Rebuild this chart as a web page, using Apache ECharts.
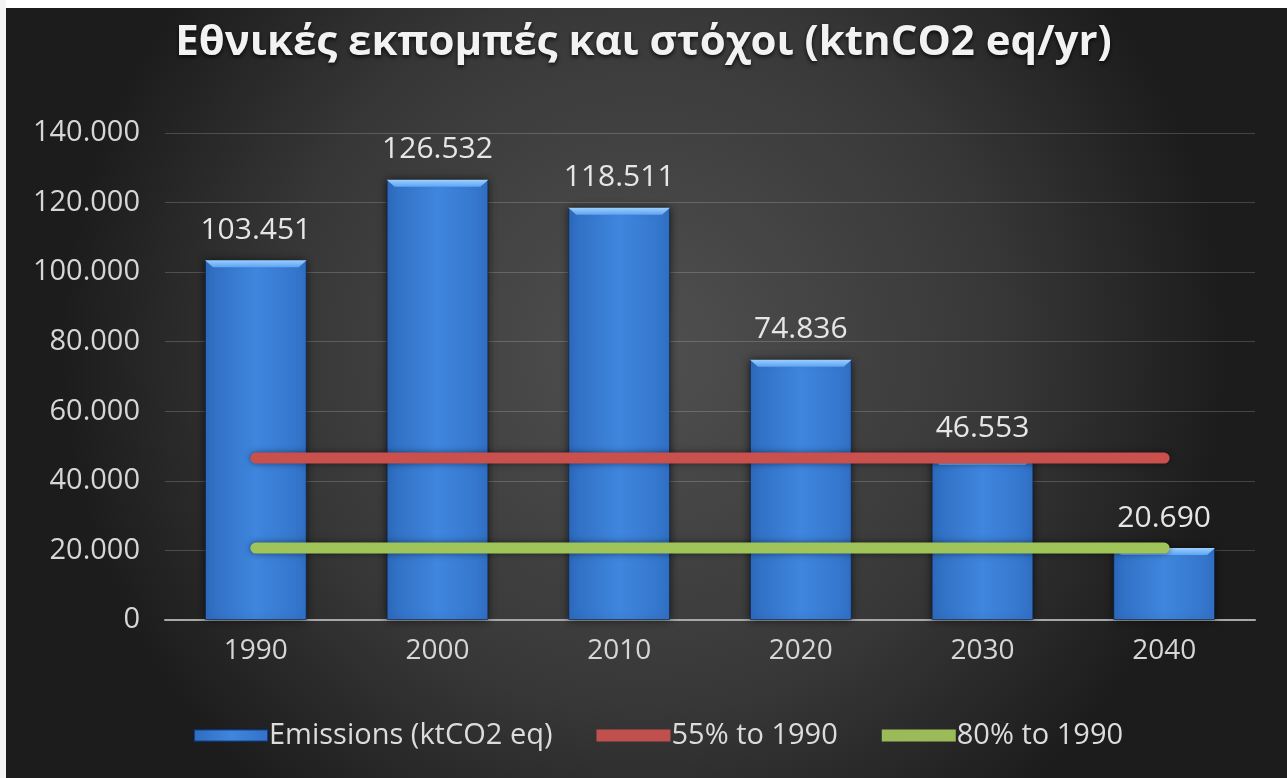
<!DOCTYPE html>
<html>
<head>
<meta charset="utf-8">
<script src="https://cdn.jsdelivr.net/npm/echarts@6/dist/echarts.min.js"></script>
<style>
html,body{margin:0;padding:0;background:#fff;}
#c{width:1287px;height:778px;}
</style>
</head>
<body>
<div id="c"></div>
<script>
const years = ['1990','2000','2010','2020','2030','2040'];
const emissions = [103451, 126532, 118511, 74836, 46553, 20690];
const target55 = [46553, 46553, 46553, 46553, 46553, 46553];
const target80 = [20690, 20690, 20690, 20690, 20690, 20690];
const yTicks = {min: 0, max: 140000, interval: 20000};

function fmt(v){
  return String(Math.round(v)).replace(/\B(?=(\d{3})+(?!\d))/g, '.');
}

const chart = echarts.init(document.getElementById('c'));
const FONT = '"Open Sans", "Noto Sans", sans-serif';
const BAR_FRAC = 0.56;
chart.setOption({
  backgroundColor: {
    type: 'radial', x: 0.5, y: 0.45, r: 0.75,
    colorStops: [{offset: 0, color: '#505050'}, {offset: 0.6, color: '#383838'}, {offset: 1, color: '#1c1c1c'}]
  },
  graphic: [
    {type: 'rect', left: 0, top: 0, shape: {width: 1287, height: 8}, style: {fill: '#ffffff'}, z: 100},
    {type: 'rect', left: 0, top: 0, shape: {width: 6, height: 778}, style: {fill: '#f4f4f4'}, z: 100}
  ],
  title: {
    text: 'Εθνικές εκπομπές και στόχοι (ktnCO2 eq/yr)',
    left: 'center', top: 17,
    textStyle: {
      color: '#f2f2f2', fontSize: 42, fontWeight: 'bold', fontFamily: FONT,
      textShadowColor: 'rgba(0,0,0,0.8)', textShadowBlur: 4, textShadowOffsetY: 2
    }
  },
  legend: {
    bottom: 23, left: 188, itemGap: 44, itemWidth: 74, itemHeight: 12,
    textStyle: {color: '#dcdcdc', fontSize: 29, fontFamily: FONT, padding: [0,0,0,-4]},
    data: [
      {name: 'Emissions (ktCO2 eq)', icon: 'rect'},
      {name: '55% to 1990', icon: 'rect'},
      {name: '80% to 1990', icon: 'rect'}
    ]
  },
  grid: {left: 165, right: 32, top: 133, bottom: 158},
  xAxis: {
    type: 'category', data: years, boundaryGap: true,
    axisLine: {lineStyle: {color: '#a8a8a8', width: 2}},
    axisTick: {show: false},
    axisLabel: {color: '#d6d6d6', fontSize: 28, fontFamily: FONT, margin: 17}
  },
  yAxis: {
    type: 'value', min: yTicks.min, max: yTicks.max, interval: yTicks.interval,
    axisLine: {show: false}, axisTick: {show: false},
    axisLabel: {color: '#d6d6d6', fontSize: 29, fontFamily: FONT, margin: 25, formatter: fmt},
    splitLine: {lineStyle: {color: 'rgba(255,255,255,0.18)', width: 1}}
  },
  series: [
    {
      name: 'Emissions (ktCO2 eq)', type: 'bar', data: emissions,
      barWidth: (BAR_FRAC * 100) + '%',
      itemStyle: {
        color: {type: 'linear', x: 0, y: 0, x2: 1, y2: 0,
          colorStops: [{offset: 0, color: '#2e6cc0'}, {offset: 0.5, color: '#3f86de'}, {offset: 1, color: '#3272c8'}]},
        borderColor: 'rgba(10,30,70,0.6)', borderWidth: 1,
        shadowColor: 'rgba(0,0,0,0.6)', shadowBlur: 8
      },
      label: {
        show: true, position: 'top', distance: 15, formatter: p => fmt(p.value),
        color: '#e6e6e6', fontSize: 30, fontFamily: FONT
      },
      z: 2
    },
    {
      name: 'Emissions (ktCO2 eq)', type: 'custom', data: emissions.map((v, i) => [i, v]),
      silent: true, z: 2.5,
      renderItem: function (params, api) {
        const top = api.coord([api.value(0), api.value(1)]);
        const w = api.size([1, 0])[0] * BAR_FRAC;
        const x0 = top[0] - w / 2, y0 = top[1];
        const h = 7, inset = 8;
        return {
          type: 'polygon',
          shape: {points: [[x0, y0], [x0 + w, y0], [x0 + w - inset, y0 + h], [x0 + inset, y0 + h]]},
          style: {fill: {type: 'linear', x: 0, y: 0, x2: 0, y2: 1,
            colorStops: [{offset: 0, color: '#9ccfff'}, {offset: 1, color: '#5ea4f2'}]}}
        };
      }
    },
    {
      name: '55% to 1990', type: 'line', data: target55,
      symbol: 'none', color: '#c0504d',
      lineStyle: {color: '#c9504d', width: 11, cap: 'round', shadowColor: 'rgba(0,0,0,0.5)', shadowBlur: 6},
      z: 3
    },
    {
      name: '80% to 1990', type: 'line', data: target80,
      symbol: 'none', color: '#9bbb59',
      lineStyle: {color: '#9fc45a', width: 11, cap: 'round', shadowColor: 'rgba(0,0,0,0.5)', shadowBlur: 6},
      z: 3
    }
  ]
});
</script>
</body>
</html>
